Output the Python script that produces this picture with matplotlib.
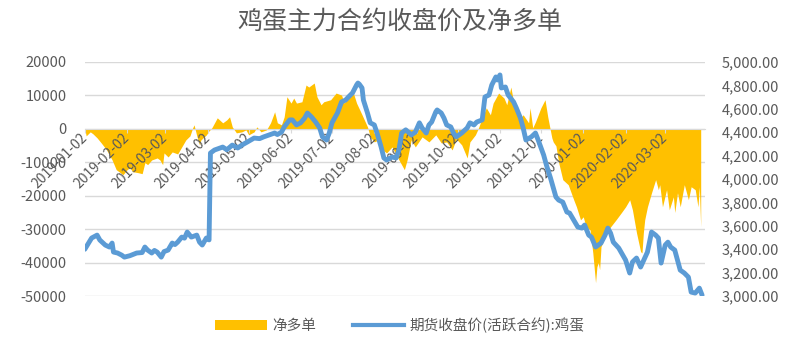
import matplotlib
matplotlib.use('Agg')
import matplotlib.pyplot as plt
import matplotlib.dates as mdates
from matplotlib.patches import Patch
from matplotlib.lines import Line2D
from matplotlib.ticker import FuncFormatter, MultipleLocator
import pandas as pd

plt.rcParams['font.family'] = ['Noto Sans CJK SC', 'DejaVu Sans']
plt.rcParams['axes.unicode_minus'] = False

title = '鸡蛋主力合约收盘价及净多单'
label_net = '净多单'
label_price = '期货收盘价(活跃合约):鸡蛋'

start = pd.Timestamp('2019-01-02')
end = pd.Timestamp('2020-03-31')

# 期货收盘价: 距 2019-01-02 的天数 / 价格
price_days = [0, 5, 9, 11, 15, 18, 20, 21, 24, 27, 29, 33, 38, 42, 44, 46, 49, 51, 53, 56,
              58, 61, 64, 66, 68, 71, 73, 75, 78, 82, 84, 86, 89, 91, 92, 95, 101, 104, 108, 112,
              115, 119, 124, 128, 131, 135, 139, 141, 144, 146, 150, 152, 155, 158, 161, 163, 166, 169, 172, 174,
              177, 179, 181, 185, 188, 191, 193, 196, 199, 200, 201, 203, 204, 207, 209, 212, 214, 217, 219, 221,
              225, 228, 230, 232, 235, 237, 239, 242, 245, 247, 250, 252, 254, 257, 258, 261, 263, 265, 268, 270,
              272, 276, 280, 282, 285, 287, 291, 293, 296, 298, 301, 302, 304, 305, 308, 310, 314, 316, 319, 321,
              323, 327, 330, 332, 336, 338, 341, 345, 347, 350, 353, 355, 358, 361, 364, 366, 369, 371, 374, 376,
              378, 381, 383, 385, 387, 391, 396, 399, 401, 404, 407, 410, 412, 415, 418, 420, 422, 425, 427, 429,
              432, 436, 439, 442, 444, 447, 450, 452]
price_vals = [3400, 3496, 3521, 3479, 3436, 3419, 3453, 3376, 3368, 3350, 3333, 3345, 3368, 3372, 3419, 3393, 3368, 3390, 3376, 3333,
              3380, 3393, 3453, 3440, 3461, 3504, 3495, 3547, 3504, 3521, 3461, 3436, 3496, 3480, 4222, 4248, 4273, 4250, 4290, 4265,
              4290, 4316, 4350, 4345, 4360, 4376, 4393, 4380, 4400, 4445, 4505, 4505, 4462, 4480, 4521, 4564, 4530, 4487, 4436, 4360,
              4333, 4393, 4480, 4564, 4658, 4675, 4700, 4735, 4803, 4820, 4810, 4778, 4675, 4564, 4480, 4462, 4393, 4273, 4180, 4162,
              4188, 4180, 4248, 4393, 4420, 4400, 4376, 4400, 4480, 4436, 4393, 4462, 4487, 4573, 4590, 4564, 4521, 4462, 4445, 4393,
              4360, 4393, 4436, 4480, 4462, 4487, 4505, 4701, 4718, 4803, 4872, 4846, 4889, 4778, 4786, 4718, 4658, 4607, 4521, 4436,
              4333, 4360, 4393, 4333, 4205, 4120, 4009, 3846, 3820, 3803, 3718, 3709, 3650, 3590, 3581, 3607, 3521, 3504, 3419, 3436,
              3453, 3521, 3581, 3538, 3461, 3410, 3308, 3197, 3291, 3325, 3248, 3325, 3376, 3547, 3521, 3496, 3282, 3436, 3461, 3419,
              3393, 3222, 3197, 3162, 3034, 3026, 3068, 3009]

# 净多单: 距 2019-01-02 的天数 / 手数
net_days = [0, 1, 4, 6, 9, 12, 16, 20, 23, 26, 28, 31, 33, 35, 39, 42, 44, 46, 49, 53,
            55, 57, 58, 61, 64, 68, 71, 74, 77, 79, 80, 82, 84, 85, 89, 91, 93, 95, 97, 101,
            104, 106, 108, 111, 115, 118, 120, 124, 126, 129, 133, 136, 139, 141, 144, 146, 148, 151, 153, 155,
            159, 162, 164, 168, 170, 173, 175, 180, 184, 188, 190, 193, 196, 199, 203, 207, 209, 212, 215, 218,
            221, 225, 228, 234, 236, 239, 242, 247, 252, 257, 261, 265, 269, 272, 276, 280, 282, 286, 288, 291,
            294, 297, 299, 303, 307, 309, 312, 315, 319, 321, 325, 326, 328, 330, 334, 337, 339, 342, 343, 345,
            347, 350, 354, 358, 360, 363, 365, 367, 370, 372, 374, 375, 376, 377, 378, 381, 383, 385, 389, 393,
            396, 399, 401, 404, 407, 408, 409, 410, 412, 415, 418, 420, 421, 423, 426, 428, 431, 432, 434, 436,
            439, 442, 444, 447, 449, 450, 451]
net_vals = [0, -2100, -900, -1500, -2700, -4200, -6300, -9300, -12200, -13100, -13700, -12200, -11600, -12800, -13100, -13400, -10100, -10700, -9300, -8700,
            -9300, -10700, -7200, -8400, -6900, -7500, -5400, -3300, -2100, 300, 1200, -2100, -4800, -3300, -1800, -600, 300, 1800, 3300, 1800,
            2700, 3600, 600, -1200, -900, -300, -1800, -900, 600, -900, -300, 1800, 5100, 1800, 1200, 3600, 9600, 7700, 9200, 7700,
            8100, 13100, 12500, 13700, 9600, 7200, 8100, 8700, 10700, 10100, 7700, 9600, 11600, 7700, 4200, 600, -2400, -3900, -3300, -6300,
            -7200, -5400, -7800, -12200, -9300, -3300, -5400, -2400, -3900, -1800, -4200, -3900, -6300, -3000, -4800, -8700, -3900, -1800, 0, 3300,
            6300, 4200, 7700, 10700, 9200, 7200, 12500, 5700, 3300, 4200, 1800, 6300, 300, 2100, 6300, 8700, 3600, -2700, -3900, -5100,
            -10100, -15200, -16700, -21200, -23300, -27200, -26300, -29300, -30200, -37100, -46000, -41200, -40000, -42100, -35200, -32200, -30200, -29300, -27200, -25000,
            -23300, -21200, -24200, -31100, -36700, -37100, -31100, -27200, -23300, -19100, -15200, -18200, -16700, -23300, -18200, -24200, -20300, -25000, -19100, -23300,
            -16700, -21200, -17300, -18200, -23300, -17300, -29300]

price_dates = start + pd.to_timedelta(price_days, unit='D')
net_dates = start + pd.to_timedelta(net_days, unit='D')

text_color = '#595959'
grid_color = '#D9D9D9'

fig = plt.figure(figsize=(8, 3.5), dpi=100)
ax = fig.add_axes([0.106, 0.154, 0.775, 0.669])
ax2 = ax.twinx()

ax.fill_between(net_dates, net_vals, 0, color='#FFC000', linewidth=0, zorder=1)
ax2.plot(price_dates, price_vals, color='#5B9BD5', lw=3.5,
         solid_joinstyle='round', solid_capstyle='round')

ax.set_xlim(start, end)
ax.set_ylim(-50000, 20000)
ax.yaxis.set_major_locator(MultipleLocator(10000))
ax2.set_ylim(3000, 5000)
ax2.yaxis.set_major_locator(MultipleLocator(200))
ax2.yaxis.set_major_formatter(FuncFormatter(lambda v, p: f'{v:,.2f}'))

ax.xaxis.set_major_locator(mdates.MonthLocator(bymonthday=2))
ax.xaxis.set_major_formatter(mdates.DateFormatter('%Y-%m-%d'))

# 网格与坐标轴
ax.yaxis.grid(True, color=grid_color, lw=1)
ax.set_axisbelow(True)
ax.xaxis.set_zorder(2.5)
for s in ['left', 'right', 'top']:
    ax.spines[s].set_visible(False)
ax.spines['bottom'].set_position(('data', 0))
ax.spines['bottom'].set_color(grid_color)
for s in ax2.spines.values():
    s.set_visible(False)

ax.tick_params(axis='x', length=3, color=grid_color, labelsize=10,
               labelcolor=text_color, pad=2)
ax.tick_params(axis='y', length=0, pad=13, labelsize=10.5, labelcolor=text_color)
ax2.tick_params(axis='y', length=0, pad=12, labelsize=10.5, labelcolor=text_color)
plt.setp(ax.get_xticklabels(), rotation=45, ha='right', va='center',
         rotation_mode='anchor')

fig.text(0.5, 1 - 22 / 350, title, ha='center', va='center',
         fontsize=18, color=text_color)

handles = [Patch(facecolor='#FFC000', edgecolor='none'),
           Line2D([0], [0], color='#5B9BD5', lw=3)]
fig.legend(handles, [label_net, label_price], loc='center',
           bbox_to_anchor=(0.5, 1 - 325 / 350), ncol=2, frameon=False,
           fontsize=10.5, labelcolor=text_color, handlelength=3.5,
           columnspacing=2.5, handletextpad=0.4)

fig.savefig('out.png', dpi=100)
